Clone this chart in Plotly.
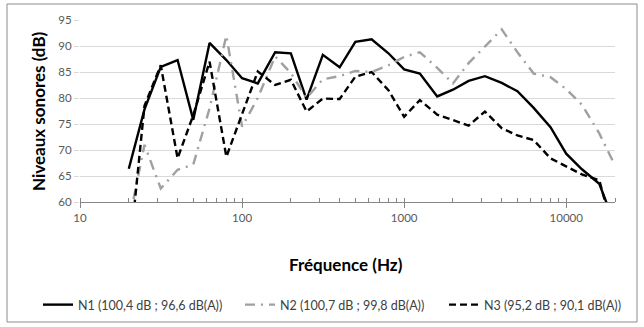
import plotly.graph_objects as go

freqs = [20, 25, 31.5, 40, 50, 63, 80, 100, 125, 160, 200, 250, 315, 400, 500, 630, 800,
         1000, 1250, 1600, 2000, 2500, 3150, 4000, 5000, 6300, 8000, 10000, 12500, 16000, 20000]

n1 = [66.4, 77.8, 86.0, 87.3, 75.8, 90.6, 87.3, 83.8, 82.8, 88.8, 88.6, 79.7, 88.3, 85.9, 90.8, 91.3, 88.6,
      85.5, 84.7, 80.3, 81.6, 83.3, 84.2, 82.9, 81.3, 78.1, 74.4, 69.3, 66.3, 63.5, 55.6]
n2 = [56.0, 71.0, 62.6, 66.2, 67.2, 78.0, 92.0, 74.5, 80.0, 88.0, 84.8, 80.0, 83.6, 84.2, 85.2, 85.0, 86.3,
      87.9, 88.8, 85.8, 82.8, 86.7, 89.9, 93.2, 88.8, 84.7, 84.0, 81.7, 78.7, 73.2, 67.0]
n3 = [48.6, 78.5, 86.3, 68.4, 76.7, 87.0, 68.7, 77.0, 85.1, 82.5, 83.5, 77.4, 79.9, 79.8, 84.1, 85.0, 81.5,
      76.4, 79.6, 76.8, 75.8, 74.7, 77.4, 74.2, 72.8, 71.9, 68.4, 66.8, 65.3, 64.2, 53.0]

names = ["N1 (100,4 dB ; 96,6 dB(A))", "N2 (100,7 dB ; 99,8 dB(A))", "N3 (95,2 dB ; 90,1 dB(A))"]
y_ticks = [60, 65, 70, 75, 80, 85, 90, 95]
x_ticks = [10, 100, 1000, 10000]

FONT = "Lato"
fig = go.Figure()
fig.add_trace(go.Scatter(x=freqs, y=n1, name=names[0], mode="lines", legend="legend",
                         line=dict(color="black", width=2.4)))
fig.add_trace(go.Scatter(x=freqs, y=n2, name=names[1], mode="lines", legend="legend2",
                         line=dict(color="#a0a0a0", width=2.4, dash="10px,6px,2px,6px")))
fig.add_trace(go.Scatter(x=freqs, y=n3, name=names[2], mode="lines", legend="legend3",
                         line=dict(color="black", width=2.4, dash="7px,4px")))

L, R, T, B = 80, 615, 20, 202
W, H = 644, 327
pw, ph = R - L, B - T

def px(x):
    return (x - L) / pw

def py(y):
    return (B - y) / ph

def leg(xpix):
    return dict(orientation="h", xref="container", yref="container",
                x=xpix / W, xanchor="left", y=1 - 305 / H, yanchor="middle",
                font=dict(family=FONT, size=12.5, color="#404040"),
                itemwidth=30, bgcolor="rgba(0,0,0,0)", borderwidth=0)

fig.update_layout(
    width=W, height=H,
    margin=dict(l=L, r=W - R, t=T, b=H - B, pad=0, autoexpand=False),
    paper_bgcolor="white", plot_bgcolor="white",
    font=dict(family=FONT, color="#595959", size=11),
    showlegend=True,
    legend=leg(38), legend2=leg(240), legend3=leg(444),
    xaxis=dict(type="log", range=[1, 4.30103], tickvals=x_ticks, ticktext=[str(v) for v in x_ticks],
               showgrid=False, zeroline=False, showline=True, linecolor="#868686", linewidth=1,
               ticks="outside", ticklen=5, tickcolor="#868686", tickfont=dict(size=11.5, color="#595959"),
               minor=dict(dtick="D1", ticks="inside", ticklen=4, tickcolor="#868686", showgrid=False)),
    yaxis=dict(range=[60, 95], tickvals=y_ticks, showgrid=True, gridcolor="#d9d9d9", gridwidth=1,
               zeroline=False, showline=False, ticks="outside", ticklen=5, tickcolor="#d9d9d9",
               tickfont=dict(size=11.5, color="#595959")),
    annotations=[
        dict(text="<b>Niveaux sonores (dB)</b>", xref="paper", yref="paper", x=px(38), y=py(111),
             textangle=-90, showarrow=False, font=dict(family=FONT, size=17, color="#000000"),
             xanchor="center", yanchor="middle"),
        dict(text="<b>Fréquence (Hz)</b>", xref="paper", yref="paper", x=px(346), y=py(264),
             showarrow=False, font=dict(family=FONT, size=17, color="#000000"),
             xanchor="center", yanchor="middle"),
    ],
    shapes=[dict(type="rect", xref="paper", yref="paper", x0=px(7), x1=px(637), y0=py(322), y1=py(4),
                 line=dict(color="#8c8c8c", width=1), layer="below")],
)

fig.write_html("out.html")
